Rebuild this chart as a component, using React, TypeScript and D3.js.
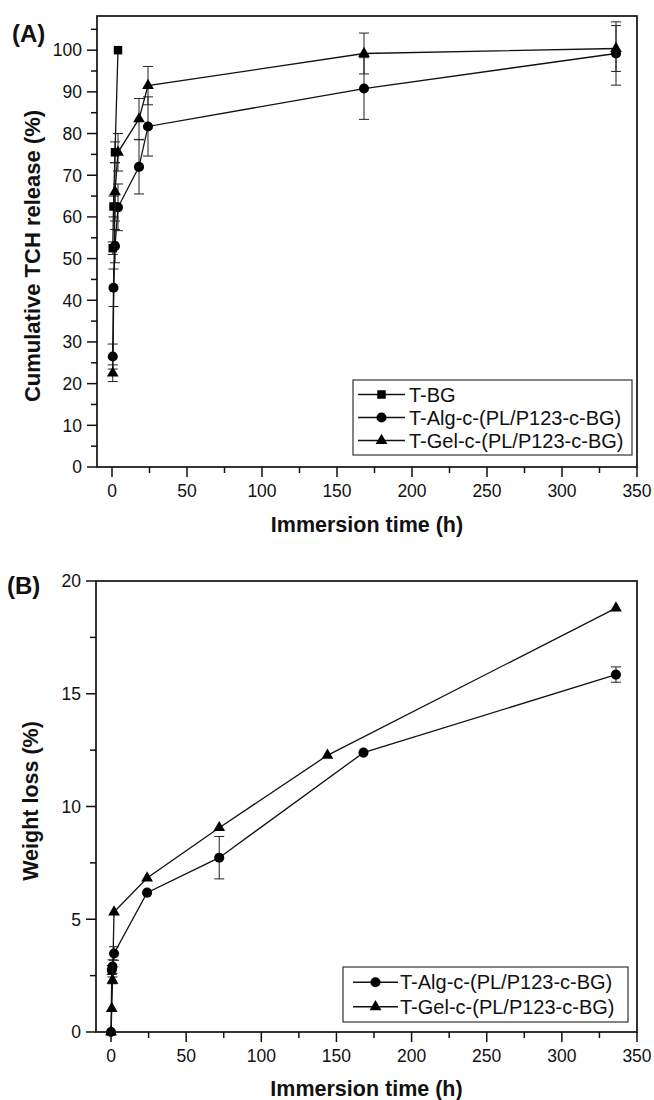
import React from "react";
import * as d3 from "d3";

// ---------- Data (panel A: cumulative TCH release) ----------
const bgTimeA = [0.5, 1, 2, 4];
const bgRelease = [52.5, 62.5, 75.5, 100];
const bgErrA = [1.5, 2.5, 2.5, 0];

const algTimeA = [0.5, 1, 2, 4, 18, 24, 168, 336];
const algRelease = [26.5, 43, 53, 62.3, 72, 81.7, 90.8, 99.2];
const algErrA = [3, 4.5, 4, 5.6, 6.5, 7.1, 7.4, 7.6];

const gelTimeA = [0.5, 2, 4, 18, 24, 168, 336];
const gelRelease = [22.5, 66, 75.5, 83.5, 91.5, 99.2, 100.4];
const gelErrA = [2, 7, 4.5, 4.9, 4.6, 4.9, 5.5];

// ---------- Data (panel B: weight loss) ----------
const algTimeB = [0, 0.5, 1, 2, 24, 72, 168, 336];
const algLoss = [0, 2.75, 2.9, 3.48, 6.18, 7.73, 12.39, 15.85];
const algErrB = [0, 0.2, 0.3, 0.3, 0, 0.94, 0, 0.34];

const gelTimeB = [0, 0.5, 1, 2, 24, 72, 144, 336];
const gelLoss = [0, 1.04, 2.29, 5.32, 6.83, 9.06, 12.27, 18.8];
const gelErrB = [0, 0, 0.15, 0, 0, 0, 0, 0];

const seriesNames = ["T-BG", "T-Alg-c-(PL/P123-c-BG)", "T-Gel-c-(PL/P123-c-BG)"];

const xMajorTicks = [0, 50, 100, 150, 200, 250, 300, 350];
const xMinorTicks = [25, 75, 125, 175, 225, 275, 325];
const yMajorA = [0, 10, 20, 30, 40, 50, 60, 70, 80, 90, 100];
const yMinorA = [5, 15, 25, 35, 45, 55, 65, 75, 85, 95, 105];
const yMajorB = [0, 5, 10, 15, 20];
const yMinorB = [2.5, 7.5, 12.5, 17.5];

const FONT = "'Liberation Sans', Arial, Helvetica, sans-serif";

type Series = {
  name: string;
  symbol: d3.SymbolType;
  size: number;
  t: number[];
  v: number[];
  e: number[];
};

type PanelProps = {
  left: number;
  right: number;
  top: number;
  bottom: number;
  yDomain: [number, number];
  yMajor: number[];
  yMinor: number[];
  series: Series[];
  yTitle: string;
  tag: string;
  tagX: number;
  tagY: number;
  yTitleCenter: number;
  yTitleX: number;
  yTitleSize: number;
  xTitleY: number;
  legend: { left: number; right: number; top: number; rowH: number; lineX0: number; lineX1: number; textX: number };
};

function Panel(p: PanelProps) {
  const x = d3.scaleLinear().domain([-10, 350]).range([p.left, p.right]);
  const y = d3.scaleLinear().domain(p.yDomain).range([p.bottom, p.top]);
  const capW = 5;

  return (
    <g>
      {/* series */}
      {p.series.map((s, si) => {
        const pts: [number, number][] = s.t.map((t, i) => [x(t), y(s.v[i])]);
        const path = d3.line()(pts) || "";
        const sym = d3.symbol().type(s.symbol).size(s.size)() || "";
        return (
          <g key={si}>
            {s.t.map((t, i) =>
              s.e[i] > 0 ? (
                <g key={i} stroke="#222" strokeWidth={1}>
                  <line x1={x(t)} x2={x(t)} y1={y(s.v[i] - s.e[i])} y2={y(s.v[i] + s.e[i])} />
                  <line x1={x(t) - capW} x2={x(t) + capW} y1={y(s.v[i] + s.e[i])} y2={y(s.v[i] + s.e[i])} />
                  <line x1={x(t) - capW} x2={x(t) + capW} y1={y(s.v[i] - s.e[i])} y2={y(s.v[i] - s.e[i])} />
                </g>
              ) : null
            )}
            <path d={path} fill="none" stroke="#111" strokeWidth={1.3} />
            {pts.map((pt, i) => (
              <path key={i} d={sym} transform={`translate(${pt[0]},${pt[1]})`} fill="#000" />
            ))}
          </g>
        );
      })}

      {/* frame */}
      <rect x={p.left} y={p.top} width={p.right - p.left} height={p.bottom - p.top} fill="none" stroke="#111" strokeWidth={1.7} />

      {/* y ticks */}
      {p.yMajor.map((v) => (
        <g key={"ym" + v}>
          <line x1={p.left - 10} x2={p.left} y1={y(v)} y2={y(v)} stroke="#111" strokeWidth={1.5} />
          <text x={p.left - 15} y={y(v)} dy="0.36em" textAnchor="end" fontFamily={FONT} fontSize={17.5} fill="#111">
            {v}
          </text>
        </g>
      ))}
      {p.yMinor.map((v) => (
        <line key={"yn" + v} x1={p.left - 6} x2={p.left} y1={y(v)} y2={y(v)} stroke="#111" strokeWidth={1.5} />
      ))}

      {/* x ticks */}
      {xMajorTicks.map((v) => (
        <g key={"xm" + v}>
          <line x1={x(v)} x2={x(v)} y1={p.bottom} y2={p.bottom + 10} stroke="#111" strokeWidth={1.5} />
          <text x={x(v)} y={p.bottom + 30} textAnchor="middle" fontFamily={FONT} fontSize={17.5} fill="#111">
            {v}
          </text>
        </g>
      ))}
      {xMinorTicks.map((v) => (
        <line key={"xn" + v} x1={x(v)} x2={x(v)} y1={p.bottom} y2={p.bottom + 6} stroke="#111" strokeWidth={1.5} />
      ))}

      {/* titles */}
      <text x={(p.left + p.right) / 2} y={p.xTitleY} textAnchor="middle" fontFamily={FONT} fontWeight="bold" fontSize={21.5} fill="#111">
        Immersion time (h)
      </text>
      <text
        transform={`translate(${p.yTitleX},${p.yTitleCenter}) rotate(-90)`}
        textAnchor="middle"
        fontFamily={FONT}
        fontWeight="bold"
        fontSize={p.yTitleSize}
        fill="#111"
      >
        {p.yTitle}
      </text>
      <text x={p.tagX} y={p.tagY} fontFamily={FONT} fontWeight="bold" fontSize={24} fill="#111">
        {p.tag}
      </text>

      {/* legend */}
      <rect
        x={p.legend.left}
        y={p.legend.top}
        width={p.legend.right - p.legend.left}
        height={p.legend.rowH * p.series.length + 6}
        fill="#fff"
        stroke="#333"
        strokeWidth={1.2}
      />
      {p.series.map((s, i) => {
        const cy = p.legend.top + 3 + p.legend.rowH * (i + 0.5);
        const sym = d3.symbol().type(s.symbol).size(s.size)() || "";
        return (
          <g key={"lg" + i}>
            <line x1={p.legend.lineX0} x2={p.legend.lineX1} y1={cy} y2={cy} stroke="#111" strokeWidth={1.3} />
            <path d={sym} transform={`translate(${(p.legend.lineX0 + p.legend.lineX1) / 2},${cy})`} fill="#000" />
            <text x={p.legend.textX} y={cy} dy="0.36em" fontFamily={FONT} fontSize={20} fill="#111">
              {s.name}
            </text>
          </g>
        );
      })}
    </g>
  );
}

export default function App() {
  const seriesA: Series[] = [
    { name: seriesNames[0], symbol: d3.symbolSquare, size: 72, t: bgTimeA, v: bgRelease, e: bgErrA },
    { name: seriesNames[1], symbol: d3.symbolCircle, size: 80, t: algTimeA, v: algRelease, e: algErrA },
    { name: seriesNames[2], symbol: d3.symbolTriangle, size: 60, t: gelTimeA, v: gelRelease, e: gelErrA },
  ];
  const seriesB: Series[] = [
    { name: seriesNames[1], symbol: d3.symbolCircle, size: 80, t: algTimeB, v: algLoss, e: algErrB },
    { name: seriesNames[2], symbol: d3.symbolTriangle, size: 60, t: gelTimeB, v: gelLoss, e: gelErrB },
  ];
  return (
    <svg width={654} height={1100} style={{ position: "absolute", left: 0, top: 0, background: "#fff" }}>
      <rect width={654} height={1100} fill="#fff" />
      <Panel
        left={97}
        right={637}
        top={16}
        bottom={467}
        yDomain={[0, 108.2]}
        yMajor={yMajorA}
        yMinor={yMinorA}
        series={seriesA}
        yTitle="Cumulative TCH release (%)"
        tag="(A)"
        tagX={12}
        tagY={42}
        yTitleCenter={256}
        yTitleX={40}
        yTitleSize={22}
        xTitleY={532}
        legend={{ left: 353, right: 632, top: 380, rowH: 23, lineX0: 358, lineX1: 405, textX: 409 }}
      />
      <Panel
        left={96}
        right={637}
        top={581}
        bottom={1032}
        yDomain={[0, 20]}
        yMajor={yMajorB}
        yMinor={yMinorB}
        series={seriesB}
        yTitle="Weight loss (%)"
        tag="(B)"
        tagX={7}
        tagY={594}
        yTitleCenter={801}
        yTitleX={38}
        yTitleSize={21.5}
        xTitleY={1096}
        legend={{ left: 343, right: 628, top: 967, rowH: 24.5, lineX0: 353, lineX1: 398, textX: 400 }}
      />
    </svg>
  );
}
